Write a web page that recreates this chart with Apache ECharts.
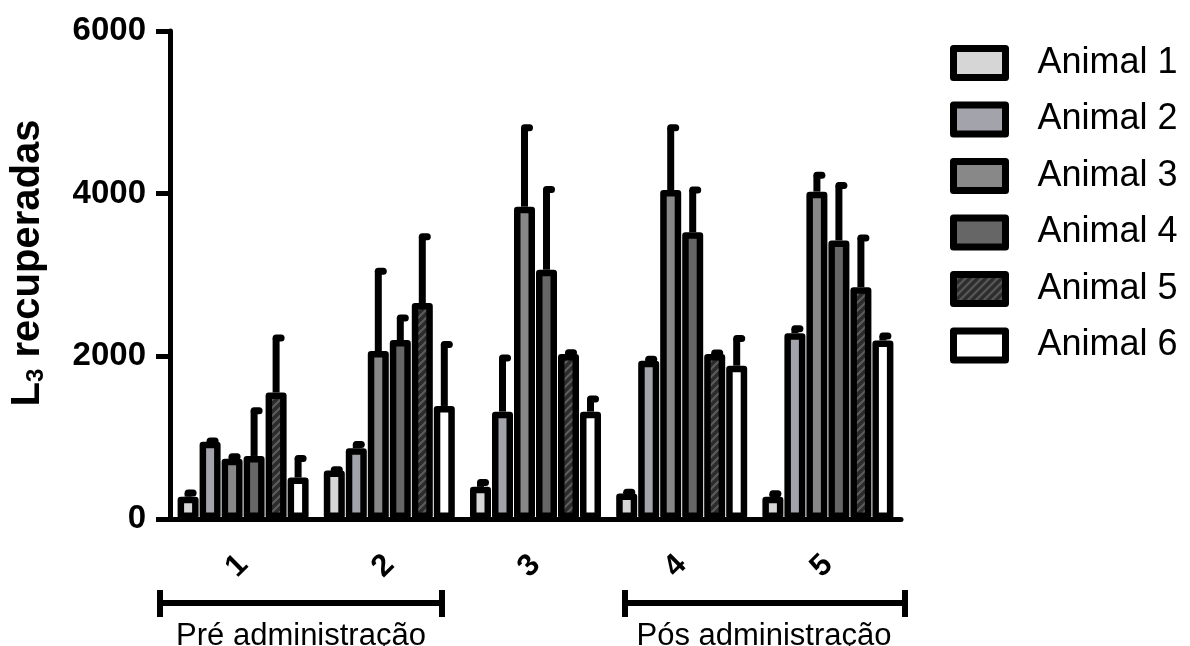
<!DOCTYPE html>
<html>
<head>
<meta charset="utf-8">
<script src="https://cdn.jsdelivr.net/npm/echarts@6/dist/echarts.min.js"></script>
<style>
  html, body { margin: 0; padding: 0; background: #fff; }
  #chart { width: 1190px; height: 646px; }
</style>
</head>
<body>
<div id="chart"></div>
<script>
// dias de coleta
const categories = ['1', '2', '3', '4', '5']
const animals = ['Animal 1', 'Animal 2', 'Animal 3', 'Animal 4', 'Animal 5', 'Animal 6']

// médias (L3 recuperadas)
const animal1Mean = [275, 595, 395, 315, 275]
const animal2Mean = [950, 870, 1320, 1945, 2285]
const animal3Mean = [740, 2065, 3840, 4045, 4025]
const animal4Mean = [775, 2200, 3065, 3525, 3425]
const animal5Mean = [1555, 2655, 2030, 2030, 2850]
const animal6Mean = [510, 1390, 1320, 1885, 2195]

// desvio padrão (só a barra superior é desenhada)
const animal1Sd = [45, 10, 55, 15, 35]
const animal2Sd = [10, 45, 660, 20, 55]
const animal3Sd = [25, 980, 970, 765, 200]
const animal4Sd = [555, 270, 985, 520, 675]
const animal5Sd = [670, 815, 15, 10, 605]
const animal6Sd = [235, 755, 155, 335, 55]

const yTicks = [0, 2000, 4000, 6000]

const means = [animal1Mean, animal2Mean, animal3Mean, animal4Mean, animal5Mean, animal6Mean]
const sds = [animal1Sd, animal2Sd, animal3Sd, animal4Sd, animal5Sd, animal6Sd]

const FONT = '"Liberation Sans", Arial, sans-serif'
const BAR_W = 21
const BAR_GAP = 1
const PITCH = BAR_W + BAR_GAP

function hatch() {
  const c = document.createElement('canvas')
  c.width = 8
  c.height = 8
  const g = c.getContext('2d')
  g.fillStyle = '#2c2c2c'
  g.fillRect(0, 0, 8, 8)
  g.strokeStyle = '#5e5e5e'
  g.lineWidth = 2
  g.beginPath()
  g.moveTo(-1, 9); g.lineTo(9, -1)
  g.moveTo(-3, 3); g.lineTo(3, -3)
  g.moveTo(5, 11); g.lineTo(11, 5)
  g.stroke()
  return c
}

const fills = ['#d6d6d6', '#a3a3ab', '#888888', '#666666', { image: hatch(), repeat: 'repeat' }, '#ffffff']

const barSeries = animals.map((name, i) => ({
  name,
  type: 'bar',
  z: 3,
  barWidth: BAR_W,
  barGap: (BAR_GAP / BAR_W * 100).toFixed(2) + '%',
  data: means[i],
  itemStyle: { color: fills[i], borderColor: '#000', borderWidth: 6.5, borderJoin: 'round' },
  emphasis: { disabled: true },
}))

const errSeries = animals.map((name, i) => ({
  name: 'sd' + (i + 1),
  type: 'custom',
  z: 2,
  data: categories.map((c, j) => [j, means[i][j], means[i][j] + sds[i][j]]),
  renderItem(params, api) {
    const base = api.coord([api.value(0), api.value(1)])
    const top = api.coord([api.value(0), api.value(2)])
    const x = base[0] + (i - 2.5) * PITCH
    return {
      type: 'group',
      children: [
        { type: 'line', shape: { x1: x, y1: base[1], x2: x, y2: top[1] }, style: { stroke: '#000', lineWidth: 7 } },
        { type: 'line', shape: { x1: x, y1: top[1], x2: x + 5, y2: top[1] }, style: { stroke: '#000', lineWidth: 7, lineCap: 'round' } },
      ],
    }
  },
}))

const chart = echarts.init(document.getElementById('chart'), null, { renderer: 'canvas' })

chart.setOption({
  animation: false,
  backgroundColor: '#fff',
  grid: { left: 169, right: 289, top: 31, bottom: 127, containLabel: false },
  legend: {
    data: animals,
    orient: 'vertical',
    left: 950,
    top: 45,
    padding: 0,
    itemWidth: 52,
    itemHeight: 29,
    itemGap: 20.5,
    icon: 'rect',
    itemStyle: { borderColor: '#000', borderWidth: 7, borderJoin: 'round' },
    textStyle: { fontFamily: FONT, fontSize: 36, lineHeight: 36, color: '#000', padding: [0, 0, 0, 27] },
    selectedMode: false,
  },
  xAxis: {
    type: 'category',
    data: categories,
    axisLine: { lineStyle: { color: '#000', width: 5 } },
    axisTick: { alignWithLabel: true, length: 13, lineStyle: { color: '#000', width: 5 } },
    axisLabel: { rotate: 45, margin: 41, fontFamily: FONT, fontWeight: 'bold', fontSize: 31, color: '#000' },
  },
  yAxis: {
    type: 'value',
    min: yTicks[0],
    max: yTicks[yTicks.length - 1],
    interval: yTicks[1] - yTicks[0],
    name: '{b|L}{s|3}{b| recuperadas}',
    nameLocation: 'middle',
    nameRotate: 90,
    nameGap: 122,
    nameTextStyle: {
      padding: [0, 0, 0, 24],
      rich: {
        b: { fontFamily: FONT, fontWeight: 'bold', fontSize: 40, color: '#000' },
        s: { fontFamily: FONT, fontWeight: 'bold', fontSize: 24, color: '#000', padding: [16, 0, 0, 0] },
      },
    },
    axisLine: { show: true, lineStyle: { color: '#000', width: 5 } },
    axisTick: { show: true, length: 14, lineStyle: { color: '#000', width: 5 } },
    axisLabel: { margin: 24, fontFamily: FONT, fontWeight: 'bold', fontSize: 33, color: '#000', formatter: (v) => String(v) },
    splitLine: { show: false },
  },
  graphic: [
    { type: 'line', shape: { x1: 160, y1: 603, x2: 442, y2: 603 }, style: { stroke: '#000', lineWidth: 6 } },
    { type: 'line', shape: { x1: 160, y1: 590, x2: 160, y2: 617 }, style: { stroke: '#000', lineWidth: 6 } },
    { type: 'line', shape: { x1: 442, y1: 590, x2: 442, y2: 617 }, style: { stroke: '#000', lineWidth: 6 } },
    { type: 'text', x: 301, y: 621, style: { text: 'Pré administração', fontFamily: FONT, fontSize: 31, fill: '#000', align: 'center', verticalAlign: 'top' } },
    { type: 'line', shape: { x1: 625, y1: 603, x2: 905, y2: 603 }, style: { stroke: '#000', lineWidth: 6 } },
    { type: 'line', shape: { x1: 625, y1: 590, x2: 625, y2: 617 }, style: { stroke: '#000', lineWidth: 6 } },
    { type: 'line', shape: { x1: 905, y1: 590, x2: 905, y2: 617 }, style: { stroke: '#000', lineWidth: 6 } },
    { type: 'text', x: 764, y: 621, style: { text: 'Pós administração', fontFamily: FONT, fontSize: 31, fill: '#000', align: 'center', verticalAlign: 'top' } },
  ],
  series: [...errSeries, ...barSeries],
})
</script>
</body>
</html>
